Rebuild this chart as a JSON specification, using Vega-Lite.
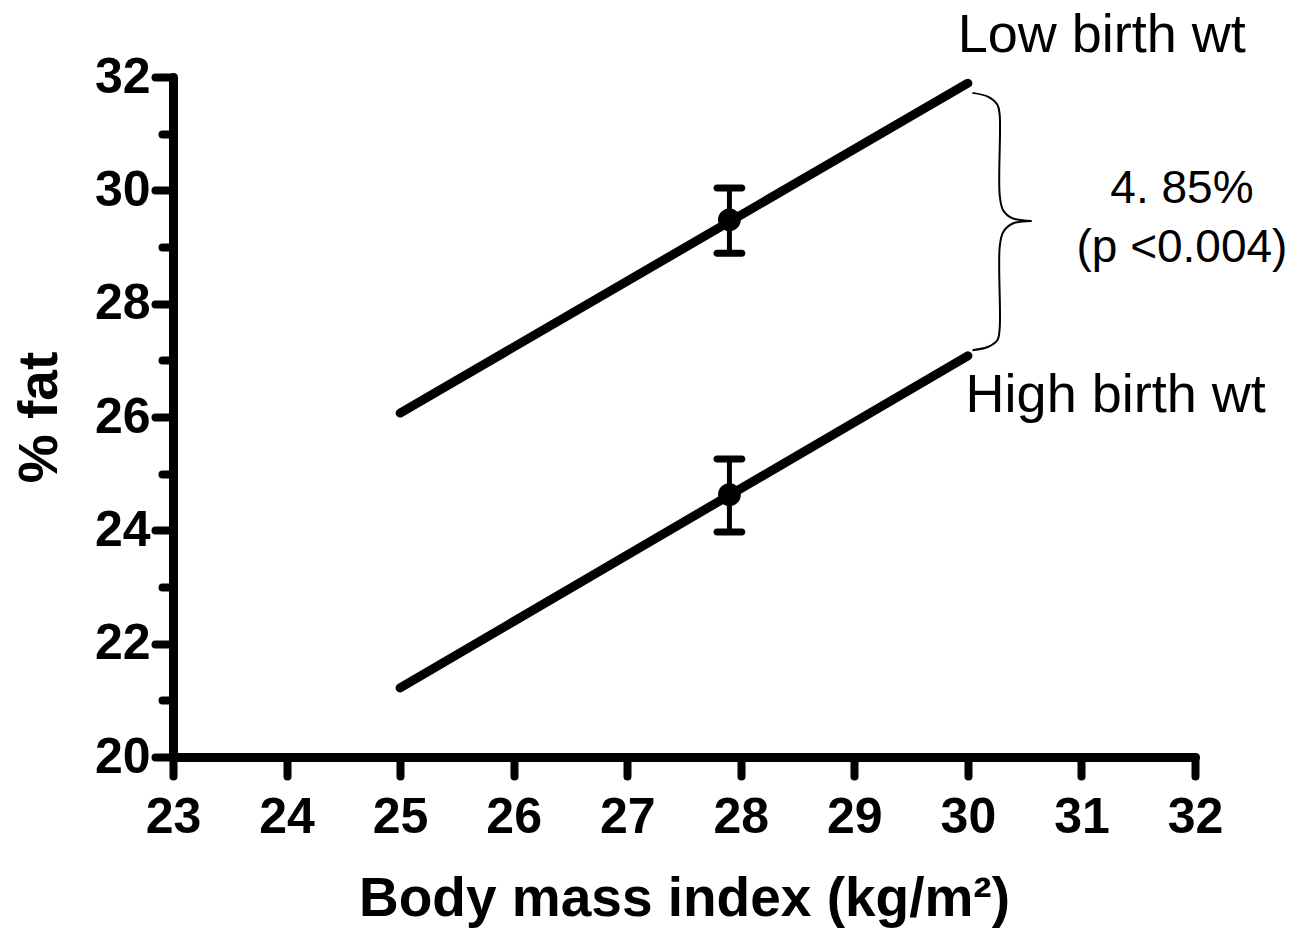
{
  "$schema": "https://vega.github.io/schema/vega-lite/v6.json",
  "width": 1022,
  "height": 680,
  "autosize": {"type": "none"},
  "padding": {"left": 173, "top": 77, "right": 103, "bottom": 177},
  "background": "white",
  "datasets": {
    "fits": [
      {"group": "Low birth wt", "bmi": 25.0, "fat": 26.07},
      {"group": "Low birth wt", "bmi": 30.0, "fat": 31.89},
      {"group": "High birth wt", "bmi": 25.0, "fat": 21.22},
      {"group": "High birth wt", "bmi": 30.0, "fat": 27.08}
    ],
    "brace": [
      {"half": "top", "seq": 1, "bmi": 30.04, "fat": 31.72},
      {"half": "top", "seq": 2, "bmi": 30.18, "fat": 31.65},
      {"half": "top", "seq": 3, "bmi": 30.26, "fat": 31.51},
      {"half": "top", "seq": 4, "bmi": 30.28, "fat": 31.33},
      {"half": "top", "seq": 5, "bmi": 30.28, "fat": 29.92},
      {"half": "top", "seq": 6, "bmi": 30.31, "fat": 29.65},
      {"half": "top", "seq": 7, "bmi": 30.39, "fat": 29.51},
      {"half": "top", "seq": 8, "bmi": 30.56, "fat": 29.46},
      {"half": "bottom", "seq": 1, "bmi": 30.56, "fat": 29.46},
      {"half": "bottom", "seq": 2, "bmi": 30.39, "fat": 29.41},
      {"half": "bottom", "seq": 3, "bmi": 30.31, "fat": 29.26},
      {"half": "bottom", "seq": 4, "bmi": 30.28, "fat": 29.0},
      {"half": "bottom", "seq": 5, "bmi": 30.28, "fat": 27.57},
      {"half": "bottom", "seq": 6, "bmi": 30.26, "fat": 27.36},
      {"half": "bottom", "seq": 7, "bmi": 30.18, "fat": 27.24},
      {"half": "bottom", "seq": 8, "bmi": 30.04, "fat": 27.18}
    ],
    "means": [
      {"group": "Low birth wt", "bmi": 27.9, "fat": 29.48},
      {"group": "High birth wt", "bmi": 27.9, "fat": 24.63}
    ],
    "bars": [
      {"group": "Low birth wt", "bmi": 27.9, "fat": 28.89, "fat_hi": 30.04},
      {"group": "High birth wt", "bmi": 27.9, "fat": 23.97, "fat_hi": 25.26}
    ],
    "caps": [
      {"group": "Low birth wt", "bmi": 27.9, "fat": 28.89},
      {"group": "Low birth wt", "bmi": 27.9, "fat": 30.04},
      {"group": "High birth wt", "bmi": 27.9, "fat": 23.97},
      {"group": "High birth wt", "bmi": 27.9, "fat": 25.26}
    ],
    "labels": [
      {"kind": "group", "label": "Low birth wt", "bmi": 29.91, "fat": 32.44},
      {"kind": "group", "label": "High birth wt", "bmi": 29.98, "fat": 26.09},
      {"kind": "note", "label": "4. 85%", "bmi": 31.885, "fat": 29.78},
      {"kind": "note", "label": "(p <0.004)", "bmi": 31.885, "fat": 28.74}
    ]
  },
  "encoding": {
    "x": {
      "field": "bmi",
      "type": "quantitative",
      "scale": {"domain": [23, 32], "nice": false, "zero": false},
      "axis": {
        "title": "Body mass index (kg/m²)",
        "values": [23, 24, 25, 26, 27, 28, 29, 30, 31, 32],
        "format": "d",
        "tickSize": 19,
        "tickWidth": 8,
        "domainWidth": 9,
        "labelFontSize": 50,
        "labelPadding": 16,
        "labelFlush": false,
        "labelOverlap": false,
        "titleFontSize": 55,
        "titleY": 158,
        "titleBaseline": "alphabetic"
      }
    },
    "y": {
      "field": "fat",
      "type": "quantitative",
      "scale": {"domain": [20, 32], "nice": false, "zero": false},
      "axis": {
        "title": "% fat",
        "values": [20, 21, 22, 23, 24, 25, 26, 27, 28, 29, 30, 31, 32],
        "format": "d",
        "labelExpr": "datum.value % 2 === 0 ? datum.label : ''",
        "tickSize": {"condition": {"test": "datum.value % 2 === 0", "value": 18}, "value": 11},
        "tickWidth": 8,
        "domainWidth": 9,
        "labelFontSize": 50,
        "labelPadding": 5,
        "labelFlush": false,
        "labelOverlap": false,
        "titleFontSize": 55,
        "titleX": -134,
        "titleY": 340,
        "titleAngle": -90,
        "titleAlign": "center",
        "titleBaseline": "middle"
      }
    }
  },
  "layer": [
    {
      "data": {"name": "fits"},
      "mark": {"type": "line", "color": "black", "strokeWidth": 9, "strokeCap": "round"},
      "encoding": {"detail": {"field": "group"}}
    },
    {
      "data": {"name": "brace"},
      "mark": {"type": "line", "color": "black", "strokeWidth": 2, "interpolate": "catmull-rom"},
      "encoding": {"detail": {"field": "half"}, "order": {"field": "seq", "type": "quantitative"}}
    },
    {
      "data": {"name": "bars"},
      "mark": {"type": "rule", "color": "black", "strokeWidth": 5},
      "encoding": {"y2": {"field": "fat_hi"}}
    },
    {
      "data": {"name": "caps"},
      "mark": {"type": "tick", "color": "black", "orient": "horizontal", "size": 32, "thickness": 7, "cornerRadius": 3.5, "opacity": 1}
    },
    {
      "data": {"name": "means"},
      "mark": {"type": "circle", "color": "black", "size": 520, "opacity": 1}
    },
    {
      "data": {"name": "labels"},
      "transform": [{"filter": "datum.kind === 'group'"}],
      "mark": {"type": "text", "align": "left", "baseline": "alphabetic", "font": "Liberation Sans", "fontSize": 54, "color": "black"},
      "encoding": {"text": {"field": "label"}}
    },
    {
      "data": {"name": "labels"},
      "transform": [{"filter": "datum.kind === 'note'"}],
      "mark": {"type": "text", "align": "center", "baseline": "alphabetic", "font": "Liberation Sans", "fontSize": 46, "color": "black"},
      "encoding": {"text": {"field": "label"}}
    }
  ],
  "config": {
    "view": {"stroke": null},
    "axis": {
      "grid": false,
      "domainColor": "black",
      "tickColor": "black",
      "labelColor": "black",
      "titleColor": "black",
      "labelFont": "Liberation Sans",
      "titleFont": "Liberation Sans",
      "labelFontWeight": "bold",
      "titleFontWeight": "bold",
      "domainCap": "round",
      "tickCap": "round"
    }
  }
}
